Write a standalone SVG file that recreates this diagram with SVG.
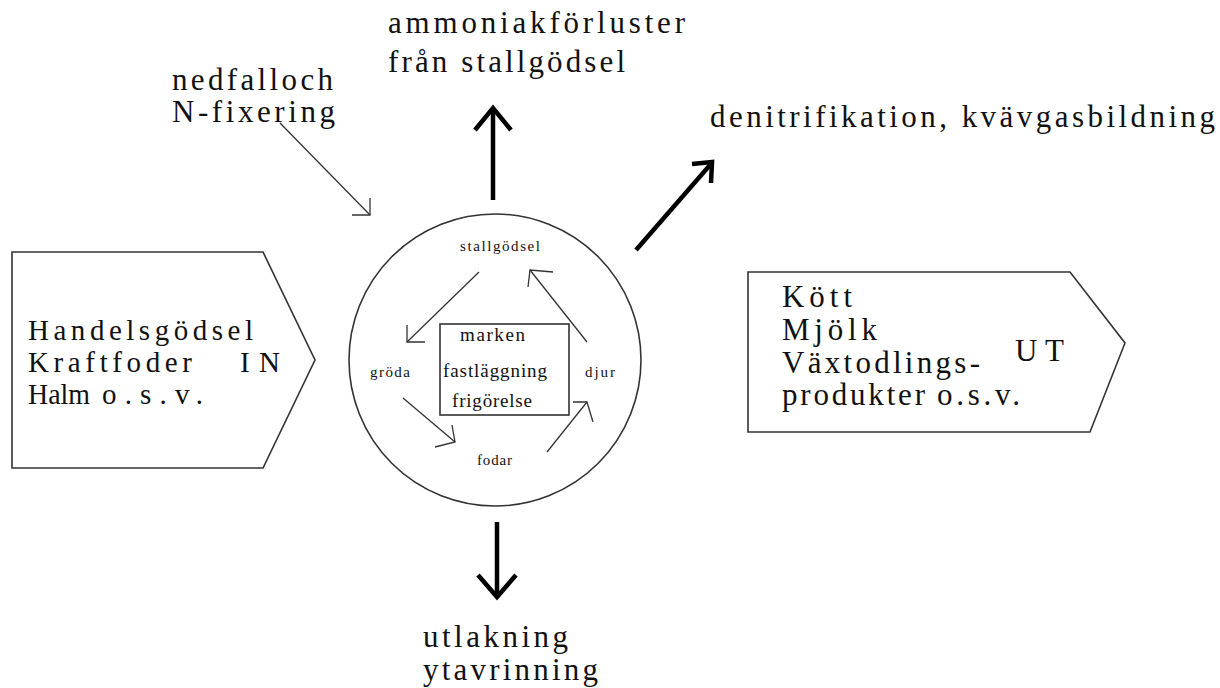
<svg xmlns="http://www.w3.org/2000/svg" width="1220" height="688" viewBox="0 0 1220 688">
<style>
text{font-family:"Liberation Serif","Times New Roman",serif;fill:#111;}
.big{font-size:31px;}
.lb{font-size:29px;}
.mid{font-size:19px;}
.sm{font-size:15px;}
.shape{fill:#fff;stroke:#333;stroke-width:1.6;}
.thin{fill:none;stroke:#333;stroke-width:1.3;}
.thick{fill:none;stroke:#000;stroke-width:4.5;stroke-linecap:butt;stroke-linejoin:miter;}
</style>
<rect width="1220" height="688" fill="#fff"/>

<g id="in-node">
<polygon class="shape" points="12,252 263,252 315,360 263,468 12,468"/>
<text class="lb" x="28" y="340" textLength="225" lengthAdjust="spacing">Handelsgödsel</text>
<text class="lb" x="28" y="372" textLength="164" lengthAdjust="spacing">Kraftfoder</text>
<text class="lb" x="240" y="372" textLength="40" lengthAdjust="spacing">IN</text>
<text class="lb" x="28" y="404" textLength="62" lengthAdjust="spacingAndGlyphs">Halm</text>
<text class="lb" x="102" y="404" textLength="101" lengthAdjust="spacing">o.s.v.</text>
</g>

<g id="ut-node">
<polygon class="shape" points="748,272 1070,272 1125,343 1090,432 748,432"/>
<text class="big" x="782" y="307" textLength="70" lengthAdjust="spacing">Kött</text>
<text class="big" x="782" y="340" textLength="95" lengthAdjust="spacing">Mjölk</text>
<text class="big" x="782" y="373" textLength="198" lengthAdjust="spacing">Växtodlings-</text>
<text class="big" x="782" y="405" textLength="143" lengthAdjust="spacing">produkter</text>
<text class="big" x="937" y="405" textLength="83" lengthAdjust="spacing">o.s.v.</text>
<text class="big" x="1015" y="361" textLength="49" lengthAdjust="spacing">UT</text>
</g>

<g id="farm-cycle">
<circle class="shape" cx="495" cy="360" r="146"/>
<text class="sm" x="460" y="251" textLength="80" lengthAdjust="spacing">stallgödsel</text>
<text class="sm" x="370" y="377" textLength="40" lengthAdjust="spacing">gröda</text>
<text class="sm" x="585" y="377" textLength="30" lengthAdjust="spacing">djur</text>
<text class="sm" x="477" y="465" textLength="35" lengthAdjust="spacing">fodar</text>
</g>

<g id="marken">
<rect class="shape" x="440" y="324" width="129" height="91"/>
<text class="mid" x="460" y="341" textLength="65" lengthAdjust="spacing">marken</text>
<text class="mid" x="443" y="377" textLength="104" lengthAdjust="spacing">fastläggning</text>
<text class="mid" x="452" y="407" textLength="80" lengthAdjust="spacing">frigörelse</text>
</g>

<g id="labels">
<text class="big" x="388" y="33" textLength="297" lengthAdjust="spacing">ammoniakförluster</text>
<text class="big" x="388" y="72" textLength="237" lengthAdjust="spacing">från stallgödsel</text>
<text class="big" x="172" y="90" textLength="161" lengthAdjust="spacing">nedfalloch</text>
<text class="big" x="172" y="122" textLength="163" lengthAdjust="spacing">N-fixering</text>
<text class="big" x="710" y="127" textLength="505" lengthAdjust="spacing">denitrifikation, kvävgasbildning</text>
<text class="big" x="423" y="647" textLength="145" lengthAdjust="spacing">utlakning</text>
<text class="big" x="423" y="680" textLength="175" lengthAdjust="spacing">ytavrinning</text>
</g>

<g id="connectors">
<path class="thick" d="M493,200 V110"/>
<path class="thick" d="M475,130 L493,108 L511,130"/>
<path class="thick" d="M497,522 V594"/>
<path class="thick" d="M478,575 L497,597 L516,575"/>
<path class="thick" d="M636,250 L710,165"/>
<path class="thick" d="M692,164 L712,162 L711,183"/>
<path class="thin" d="M280,123 L370,215"/>
<path class="thin" d="M352,215 H370 V198"/>
<path class="thin" d="M479,272 L407,342"/>
<path class="thin" d="M407,325 V342 H425"/>
<path class="thin" d="M403,398 L455,442"/>
<path class="thin" d="M452,425 L455,442 L435,447"/>
<path class="thin" d="M547,452 L587,402"/>
<path class="thin" d="M573,402 H587 L593,422"/>
<path class="thin" d="M587,342 L530,270"/>
<path class="thin" d="M553,272 L530,270 L528,287"/>
</g>
</svg>
